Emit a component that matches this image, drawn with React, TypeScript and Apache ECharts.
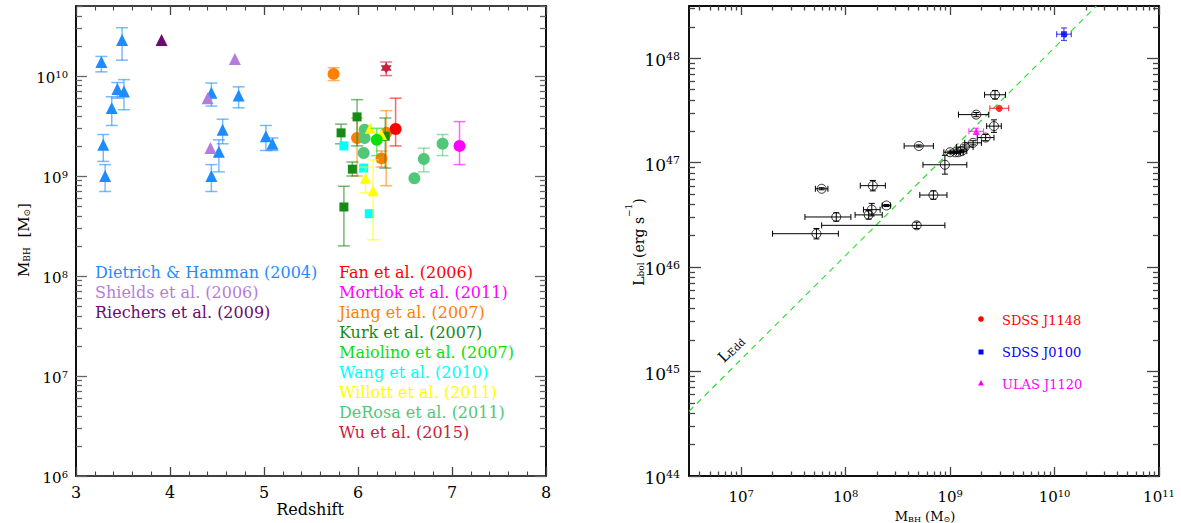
import React, { useEffect, useRef } from "react";
import * as echarts from "echarts";

const FONT = "DejaVu Serif";

// ---------- Left panel: M_BH vs redshift ----------
// rows: [redshift, M_BH (1e9 Msun), lower bound, upper bound]
const dietrich = [
  [3.27, 13.8, 11.0, 15.7],
  [3.49, 22.9, 14.4, 30.4],
  [3.44, 7.4, 6.0, 8.6],
  [3.51, 7.0, 4.6, 9.2],
  [3.38, 4.8, 3.2, 6.2],
  [3.29, 2.05, 1.4, 2.6],
  [3.31, 1.0, 0.7, 1.3],
  [4.44, 6.8, 5.0, 8.5],
  [4.73, 6.4, 4.8, 7.8],
  [4.56, 2.9, 2.1, 3.7],
  [4.52, 1.75, 1.1, 2.3],
  [4.44, 1.0, 0.7, 1.3],
  [5.02, 2.5, 1.8, 3.2],
  [5.09, 2.1, 1.8, 2.4],
];
const shields = [[4.69, 14.8], [4.40, 6.0], [4.43, 1.9]];
const riechers = [[3.91, 22.9]];
const fan = [[6.40, 2.95, 2.0, 6.0]];
const mortlock = [[7.08, 2.0, 1.3, 3.5]];
const jiang = [[5.74, 10.5, 9.0, 12.1], [5.99, 2.4, 1.0, 3.8], [6.30, 2.7, 0.8, 4.5], [6.25, 1.5, 1.23, 1.78]];
const kurk = [[5.82, 2.7, 2.1, 3.3], [5.99, 3.9, 2.0, 5.8], [5.94, 1.17, 1.0, 1.38], [5.85, 0.49, 0.2, 0.79], [6.29, 2.5, 1.2, 3.8]];
const maiolino = [[6.20, 2.3, 1.6, 3.0]];
const wang = [[5.85, 2.0], [6.06, 1.2], [6.12, 0.42]];
const willott = [[6.13, 3.0], [6.25, 2.6], [6.08, 0.95, 0.68, 1.23], [6.16, 0.71, 0.23, 1.45]];
const derosa = [[6.07, 2.9], [6.07, 2.4], [6.06, 1.7], [6.60, 0.95], [6.70, 1.48, 1.1, 1.9], [6.90, 2.1, 1.6, 2.6]];
const wu = [[6.30, 12.0, 10.1, 13.8]];

const redshiftTicks = [3, 4, 5, 6, 7, 8];
const massDecades = [6, 7, 8, 9, 10];

const legendLeftCol = ["Dietrich & Hamman (2004)", "Shields et al. (2006)", "Riechers et al. (2009)"];
const legendRightCol = [
  "Fan et al. (2006)", "Mortlok et al. (2011)", "Jiang et al. (2007)", "Kurk et al. (2007)",
  "Maiolino et al. (2007)", "Wang et al. (2010)", "Willott et al. (2011)", "DeRosa et al. (2011)", "Wu et al. (2015)",
];

// ---------- Right panel: L_bol vs M_BH (log10 values) ----------
// rows: [log M_BH, log L_bol, dM low, dM high, dL]
const bhSample = [
  [9.43, 47.65, 0.10, 0.10, 0.04],
  [9.25, 47.46, 0.17, 0.12, 0.02],
  [9.42, 47.35, 0.07, 0.07, 0.06],
  [9.34, 47.24, 0.08, 0.08, 0.03],
  [9.22, 47.19, 0.08, 0.08, 0.02],
  [9.14, 47.15, 0.08, 0.08, 0.02],
  [8.70, 47.16, 0.14, 0.14, 0.01],
  [9.00, 47.10, 0.06, 0.06, 0.01],
  [9.05, 47.10, 0.05, 0.05, 0.01],
  [9.08, 47.10, 0.05, 0.05, 0.01],
  [9.11, 47.11, 0.05, 0.05, 0.01],
  [8.95, 46.98, 0.21, 0.21, 0.09],
  [7.77, 46.75, 0.06, 0.06, 0.01],
  [8.26, 46.78, 0.12, 0.12, 0.05],
  [8.84, 46.69, 0.13, 0.13, 0.04],
  [8.39, 46.59, 0.04, 0.04, 0.01],
  [8.25, 46.55, 0.08, 0.08, 0.06],
  [8.22, 46.50, 0.13, 0.13, 0.04],
  [7.91, 46.48, 0.30, 0.14, 0.04],
  [8.68, 46.40, 0.91, 0.27, 0.03],
  [7.72, 46.32, 0.42, 0.21, 0.05],
];
const j1148 = [[9.47, 47.52, 0.09, 0.09, 0]];
const j0100 = [[10.09, 48.23, 0.07, 0.07, 0.06]];
const j1120 = [[9.25, 47.30, 0.07, 0.07, 0.03]];
const eddingtonLine = [[6.5, 44.62], [10.4, 48.5]];
const mbhDecades = [7, 8, 9, 10, 11];
const lbolDecades = [44, 45, 46, 47, 48];
const legendRight = ["SDSS J1148", "SDSS J0100", "ULAS J1120"];

const C = {
  dietrich: "#1e8cff",
  shields: "#b47ddc",
  riechers: "#6c0a6e",
  fan: "#ff0000",
  mortlock: "#ff00ff",
  jiang: "#ff8000",
  kurk: "#178a17",
  maiolino: "#0be00b",
  wang: "#00ffff",
  willott: "#ffff00",
  derosa: "#50c878",
  wu: "#c81e3c",
};

const STAR =
  "path://M0,-10L2.887,-5L8.66,-5L5.774,0L8.66,5L2.887,5L0,10L-2.887,5L-8.66,5L-5.774,0L-8.66,-5L-2.887,-5Z";

const toLog = (m: number) => Math.log10(m * 1e9);
const leftRows = (rows: number[][]) =>
  rows.map((r) => {
    const y = toLog(r[1]);
    return [r[0], y, r[0], r[0], r.length > 2 ? toLog(r[2]) : y, r.length > 3 ? toLog(r[3]) : y];
  });
const rightRows = (rows: number[][]) =>
  rows.map((r) => [r[0], r[1], r[0] - r[2], r[0] + r[3], r[1] - r[4], r[1] + r[4]]);

function minorLog(a: number, b: number) {
  const out: number[] = [];
  for (let n = Math.floor(a); n < b; n++)
    for (let k = 2; k <= 9; k++) {
      const v = n + Math.log10(k);
      if (v > a && v < b) out.push(v);
    }
  return out;
}

function errorBars(rows: number[][], color: string, xi: number, yi: number, cap: number, lw: number, opacity: number, z: number) {
  return {
    type: "custom",
    xAxisIndex: xi,
    yAxisIndex: yi,
    silent: true,
    z,
    data: rows,
    encode: { x: [0, 2, 3], y: [1, 4, 5] },
    renderItem: (_p: any, api: any) => {
      const x = api.value(0), y = api.value(1);
      const x0 = api.value(2), x1 = api.value(3), y0 = api.value(4), y1 = api.value(5);
      const style = { stroke: color, lineWidth: lw, opacity };
      const kids: any[] = [];
      const ln = (a: number[], b: number[]) => ({ type: "line", shape: { x1: a[0], y1: a[1], x2: b[0], y2: b[1] }, style });
      if (Math.abs(y1 - y0) > 1e-9) {
        const a = api.coord([x, y0]), b = api.coord([x, y1]);
        kids.push(ln(a, b), ln([a[0] - cap, a[1]], [a[0] + cap, a[1]]), ln([b[0] - cap, b[1]], [b[0] + cap, b[1]]));
      }
      if (Math.abs(x1 - x0) > 1e-9) {
        const a = api.coord([x0, y]), b = api.coord([x1, y]);
        kids.push(ln(a, b), ln([a[0], a[1] - cap], [a[0], a[1] + cap]), ln([b[0], b[1] - cap], [b[0], b[1] + cap]));
      }
      return { type: "group", children: kids };
    },
  };
}

const powRich = (size: number, sup: number) => ({
  b: { fontFamily: FONT, fontSize: size, color: "#000", verticalAlign: "bottom", lineHeight: size + 4 },
  s: { fontFamily: FONT, fontSize: sup, color: "#000", verticalAlign: "bottom", padding: [0, 0, Math.round(size * 0.42), 0] },
});
const powFmt = (v: number) => `{b|10}{s|${Math.round(v)}}`;

function frameAxis(gridIndex: number, position: string, min: number, max: number, o: any) {
  return {
    type: "value",
    gridIndex,
    position,
    min,
    max,
    axisLine: { show: true, onZero: false, lineStyle: { color: "#000", width: 1.5 } },
    axisTick: { show: true, inside: true, length: o.len, customValues: o.ticks, lineStyle: { color: o.tickColor || "#444", width: 1.3 } },
    axisLabel: o.labels
      ? { show: true, customValues: o.ticks, formatter: powFmt, rich: powRich(o.fs, o.sfs), margin: o.margin }
      : { show: false },
    splitLine: { show: false },
  };
}

function leftX(position: string, labels: boolean) {
  return {
    type: "value",
    gridIndex: 0,
    position,
    min: 3,
    max: 8,
    interval: 1,
    axisLine: { show: true, onZero: false, lineStyle: { color: "#000", width: 1.5 } },
    axisTick: { show: true, inside: true, length: 9, lineStyle: { color: "#444", width: 1.3 } },
    minorTick: { show: true, splitNumber: 5, length: 4.5, lineStyle: { color: "#444", width: 1.1 } },
    axisLabel: labels
      ? { show: true, fontFamily: FONT, fontSize: 16, color: "#000", margin: 8, customValues: redshiftTicks }
      : { show: false },
    splitLine: { show: false },
    minorSplitLine: { show: false },
  };
}

const leftGroups = [
  { rows: dietrich, color: C.dietrich, symbol: "triangle", size: 12 },
  { rows: shields, color: C.shields, symbol: "triangle", size: 12 },
  { rows: riechers, color: C.riechers, symbol: "triangle", size: 12 },
  { rows: jiang, color: C.jiang, symbol: "circle", size: 12 },
  { rows: kurk, color: C.kurk, symbol: "rect", size: 9 },
  { rows: wang, color: C.wang, symbol: "rect", size: 9 },
  { rows: derosa, color: C.derosa, symbol: "circle", size: 12 },
  { rows: willott, color: C.willott, symbol: "triangle", size: 11 },
  { rows: maiolino, color: C.maiolino, symbol: "circle", size: 12 },
  { rows: fan, color: C.fan, symbol: "circle", size: 12 },
  { rows: mortlock, color: C.mortlock, symbol: "circle", size: 12 },
  { rows: wu, color: C.wu, symbol: STAR, size: 11 },
];
const leftColors = [C.dietrich, C.shields, C.riechers];
const rightColors = [C.fan, C.mortlock, C.jiang, C.kurk, C.maiolino, C.wang, C.willott, C.derosa, C.wu];

function buildOption() {
  const series: any[] = [];
  leftGroups.forEach((g, i) => {
    const rows = leftRows(g.rows);
    series.push(errorBars(rows, g.color, 0, 0, 6, 1.5, 0.6, 2 + i * 2));
    series.push({
      type: "scatter",
      xAxisIndex: 0,
      yAxisIndex: 0,
      symbol: g.symbol,
      symbolSize: g.size,
      itemStyle: { color: g.color, opacity: 1 },
      data: rows.map((r) => [r[0], r[1]]),
      z: 3 + i * 2,
      silent: true,
    });
  });

  // Right panel
  series.push({
    type: "line",
    xAxisIndex: 2,
    yAxisIndex: 4,
    data: eddingtonLine,
    symbol: "none",
    lineStyle: { color: "#33dd33", width: 1.2, type: [6, 5] },
    z: 2,
    silent: true,
  });
  const rs = rightRows(bhSample);
  series.push(errorBars(rs, "#000", 2, 4, 3, 1, 1, 3));
  series.push({
    type: "scatter",
    xAxisIndex: 2,
    yAxisIndex: 4,
    symbol: "circle",
    symbolSize: 9,
    itemStyle: { color: "rgba(0,0,0,0)", borderColor: "#000", borderWidth: 1 },
    data: rs.map((r) => [r[0], r[1]]),
    z: 4,
    silent: true,
  });
  const special = [
    { rows: j1148, color: "#ff0000", symbol: "circle", size: 7 },
    { rows: j0100, color: "#0000ff", symbol: "rect", size: 6 },
    { rows: j1120, color: "#ff00ff", symbol: "triangle", size: 7 },
  ];
  special.forEach((g) => {
    const rows = rightRows(g.rows);
    series.push(errorBars(rows, g.color, 2, 4, 3, 1.2, 0.7, 5));
    series.push({
      type: "scatter",
      xAxisIndex: 2,
      yAxisIndex: 4,
      symbol: g.symbol,
      symbolSize: g.size,
      itemStyle: { color: g.color },
      data: rows.map((r) => [r[0], r[1]]),
      z: 6,
      silent: true,
    });
  });

  const txt = (x: number, y: number, text: string, fill: string, size: number, extra: any = {}) => ({
    type: "text",
    x,
    y,
    z: 100,
    silent: true,
    ...extra,
    style: { text, fill, fontFamily: FONT, fontSize: size, align: extra.align || "left", verticalAlign: "middle", rich: extra.rich },
  });
  const subRich = (size: number, sub: number, color = "#000") => ({
    m: { fontFamily: FONT, fontSize: size, fill: color, verticalAlign: "bottom", lineHeight: size + 9 },
    s: { fontFamily: FONT, fontSize: sub, fill: color, verticalAlign: "bottom" },
    p: { fontFamily: FONT, fontSize: sub, fill: color, verticalAlign: "bottom", padding: [0, 0, Math.round(size * 0.85), 0] },
  });

  const graphics: any[] = [];
  legendLeftCol.forEach((t, i) => graphics.push(txt(95, 272 + i * 20, t, leftColors[i], 16)));
  legendRightCol.forEach((t, i) => graphics.push(txt(339, 272 + i * 20, t, rightColors[i], 16)));
  graphics.push(txt(310, 509, "Redshift", "#000", 16, { align: "center" }));
  graphics.push(
    txt(19, 240, "{m|M}{s|BH}{m|  [M}{s|⊙}{m|]}", "#000", 15, { align: "center", rotation: Math.PI / 2, rich: subRich(15, 9) })
  );
  graphics.push(
    txt(634, 242, "{m|L}{s|bol}{m| (erg s}{p|−1}{m|)}", "#000", 14, { align: "center", rotation: Math.PI / 2, rich: subRich(14, 9) })
  );
  graphics.push(
    txt(925, 512, "{m|M}{s|BH}{m| (M}{s|⊙}{m|)}", "#000", 13, { align: "center", rich: subRich(13, 8) })
  );
  graphics.push(
    txt(728, 346, "{m|L}{s|Edd}", "#000", 15, { align: "center", rotation: Math.PI / 4, rich: subRich(15, 10) })
  );
  // right legend
  graphics.push({ type: "circle", shape: { cx: 981, cy: 319, r: 2.8 }, style: { fill: "#ff0000" }, z: 100 });
  graphics.push({ type: "rect", shape: { x: 978.5, y: 349.5, width: 5, height: 5 }, style: { fill: "#0000ff" }, z: 100 });
  graphics.push({ type: "polygon", shape: { points: [[981, 380], [984, 385.5], [978, 385.5]] }, style: { fill: "#ff00ff" }, z: 100 });
  const lrCols = ["#ff0000", "#0000ff", "#ff00ff"];
  legendRight.forEach((t, i) => graphics.push(txt(1002, 320 + i * 32, t, lrCols[i], 13)));

  const lMinor = minorLog(6, 10.7);
  const rxMinor = minorLog(6.5, 11);
  const ryMinor = minorLog(44, 48.5);

  return {
    animation: false,
    backgroundColor: "#fff",
    grid: [
      { left: 76, top: 6, width: 470, height: 470 },
      { left: 689, top: 6, width: 470, height: 470 },
    ],
    xAxis: [
      leftX("bottom", true),
      leftX("top", false),
      frameAxis(1, "bottom", 6.5, 11, { ticks: mbhDecades, len: 9, labels: true, fs: 15, sfs: 10, margin: 9 }),
      frameAxis(1, "bottom", 6.5, 11, { ticks: rxMinor, len: 4.5 }),
      frameAxis(1, "top", 6.5, 11, { ticks: mbhDecades, len: 9 }),
      frameAxis(1, "top", 6.5, 11, { ticks: rxMinor, len: 4.5 }),
    ],
    yAxis: [
      frameAxis(0, "left", 6, 10.7, { ticks: massDecades, len: 11, labels: true, fs: 15, sfs: 10, margin: 8, tickColor: "#666" }),
      frameAxis(0, "left", 6, 10.7, { ticks: lMinor, len: 6, tickColor: "#666" }),
      frameAxis(0, "right", 6, 10.7, { ticks: massDecades, len: 11, tickColor: "#666" }),
      frameAxis(0, "right", 6, 10.7, { ticks: lMinor, len: 6, tickColor: "#666" }),
      frameAxis(1, "left", 44, 48.5, { ticks: lbolDecades, len: 12, labels: true, fs: 17, sfs: 11, margin: 9 }),
      frameAxis(1, "left", 44, 48.5, { ticks: ryMinor, len: 6 }),
      frameAxis(1, "right", 44, 48.5, { ticks: lbolDecades, len: 12 }),
      frameAxis(1, "right", 44, 48.5, { ticks: ryMinor, len: 6 }),
    ],
    series,
    graphic: graphics,
  };
}

export default function App() {
  const ref = useRef<HTMLDivElement>(null);
  useEffect(() => {
    const chart = echarts.init(ref.current!, null, { renderer: "svg" });
    chart.setOption(buildOption() as any);
    return () => chart.dispose();
  }, []);
  return <div ref={ref} style={{ position: "absolute", left: 0, top: 0, width: 1181, height: 523 }} />;
}
